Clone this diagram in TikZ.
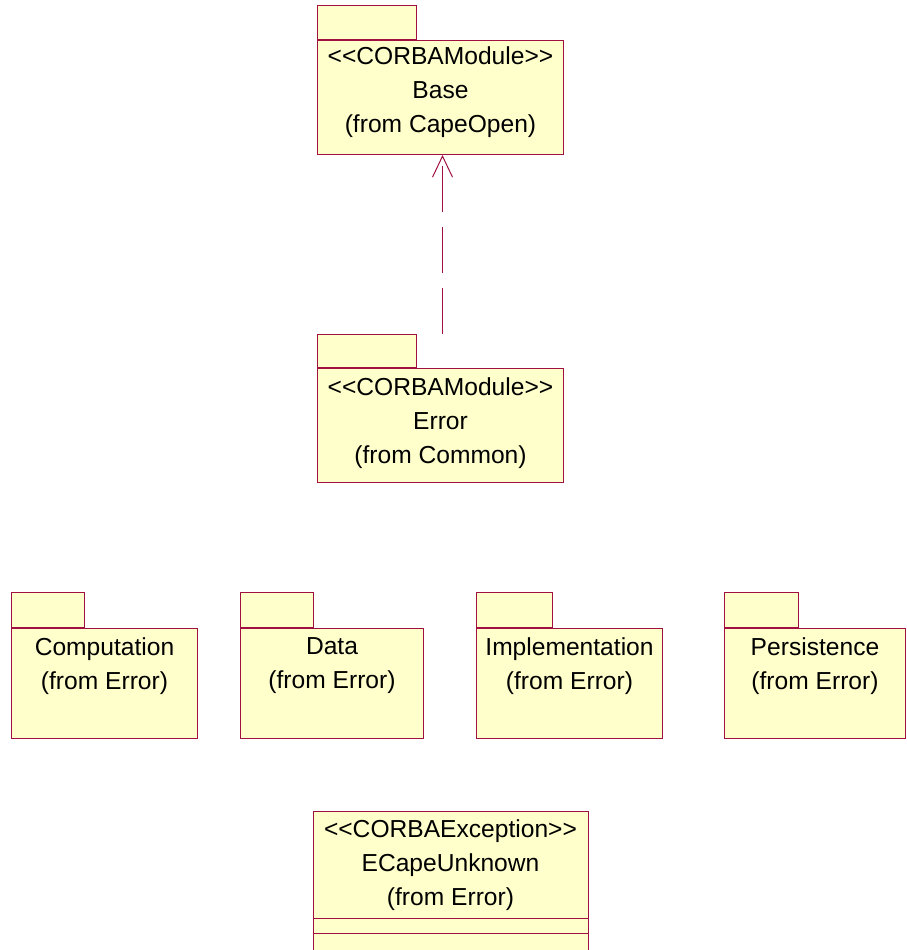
\documentclass[tikz,border=0pt]{standalone}
\usepackage{fontspec}
\setmainfont{Liberation Sans}[Ligatures=TeXOff]
\usetikzlibrary{calc,arrows.meta}

\begin{document}
\begin{tikzpicture}[x=1pt,y=-1pt,
  pkgtab/.style={draw=rose_line,fill=rose_fill,line width=1pt,inner sep=0pt,anchor=south west},
  pkgbody/.style={draw=rose_line,fill=rose_fill,line width=1pt,inner sep=0pt,anchor=north west},
  pkgtext/.style={align=center,inner sep=0pt,font=\fontsize{24.6}{34}\selectfont},
  depend/.style={rose_line,line width=1pt,dash pattern=on 46pt off 15pt,
    -{Straight Barb[length=21pt,width=20pt,line width=1pt]}}]
\definecolor{rose_fill}{RGB}{255,255,204} %#FFFFCC
\definecolor{rose_line}{RGB}{160,16,64}   %#A01040

\useasboundingbox (0,0) rectangle (906,950);
\clip (0,0) rectangle (906,950);

\def\tabh{34}
\def\rowtabh{35}

% top packages
\node [pkgtab,minimum width=99,minimum height=\tabh] (basetab) at (317,40) {};
\node [pkgbody,minimum width=246,minimum height=114] (base) at (317,40) {};
\node [pkgtext] (basetxt) at ($(base.center)+(0,-5)$) {<<CORBAModule>>\\Base\\(from CapeOpen)};

\node [pkgtab,minimum width=99,minimum height=33] (errortab) at (317,368) {};
\node [pkgbody,minimum width=246,minimum height=114] (error) at (317,368) {};
\node [pkgtext] (errortxt) at ($(error.center)+(0,-2.5)$) {<<CORBAModule>>\\Error\\(from Common)};

\draw [depend] ([xshift=2pt]errortab.north -| error.north) -- ([xshift=2pt]base.south);

% sub packages of Error
\node [pkgtab,minimum width=73,minimum height=\rowtabh] (comptab) at (11,628) {};
\node [pkgbody,minimum width=186,minimum height=110] (comp) at (11,628) {};
\node [pkgtext] (comptxt) at ($(comp.center)+(0,-17.5)$) {Computation\\(from Error)};

\node [pkgtab,minimum width=73,minimum height=\rowtabh] (datatab) at (240,628) {};
\node [pkgbody,minimum width=183,minimum height=110] (data) at (240,628) {};
\node [pkgtext] (datatxt) at ($(data.center)+(0,-17.5)$) {Data\\(from Error)};

\node [pkgtab,minimum width=76,minimum height=\rowtabh] (impltab) at (476,628) {};
\node [pkgbody,minimum width=186,minimum height=110] (impl) at (476,628) {};
\node [pkgtext] (impltxt) at ($(impl.center)+(0,-17.5)$) {Implementation\\(from Error)};

\node [pkgtab,minimum width=74,minimum height=\rowtabh] (perstab) at (724,628) {};
\node [pkgbody,minimum width=181,minimum height=110] (pers) at (724,628) {};
\node [pkgtext] (perstxt) at ($(pers.center)+(0,-17.5)$) {Persistence\\(from Error)};

% exception class
\node [pkgbody,minimum width=275,minimum height=141] (unknown) at (313,811) {};
\node [pkgtext] (unknowntxt) at (450.5,865.5) {<<CORBAException>>\\ECapeUnknown\\(from Error)};
\draw [rose_line,line width=1pt] (unknown.west |- 0,918) -- (unknown.east |- 0,918);
\draw [rose_line,line width=1pt] (unknown.west |- 0,933) -- (unknown.east |- 0,933);

\end{tikzpicture}
\end{document}
